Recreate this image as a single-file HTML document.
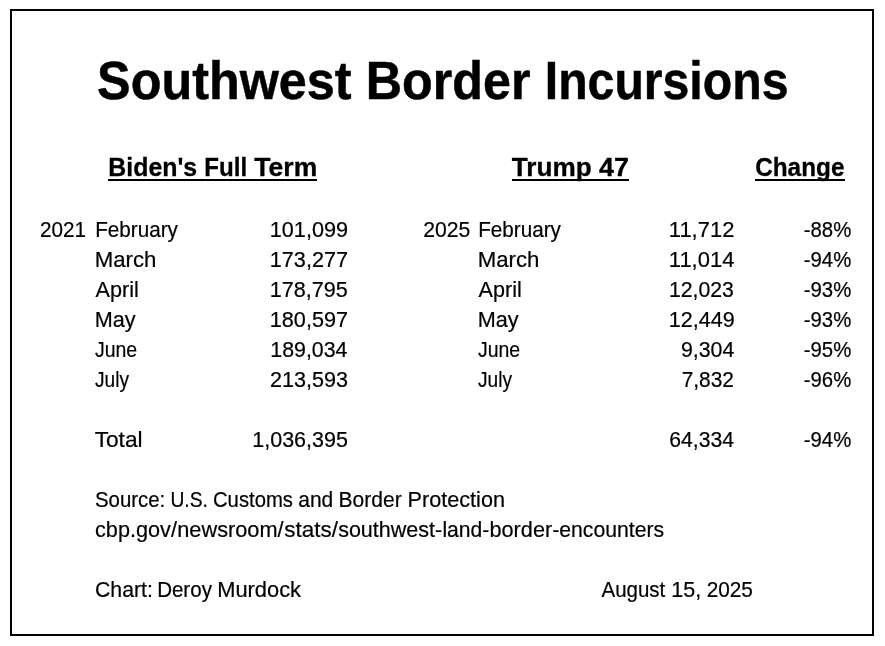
<!DOCTYPE html>
<html><head><meta charset="utf-8"><title>Southwest Border Incursions</title>
<style>
html,body{margin:0;padding:0;background:#fff;width:885px;height:646px;overflow:hidden}
svg{display:block;will-change:transform;font-family:"Liberation Sans",sans-serif;fill:#000}
text{stroke:#000;stroke-width:0.2px}
</style></head><body>
<svg width="885" height="646" viewBox="0 0 885 646">
<rect x="0" y="0" width="885" height="646" fill="#fff"/>
<rect x="11" y="10" width="862" height="625" fill="none" stroke="#000" stroke-width="2"/>
<rect x="108" y="179" width="209" height="2" fill="#000"/>
<rect x="512" y="179" width="117" height="2" fill="#000"/>
<rect x="755" y="179" width="90" height="2" fill="#000"/>
<text x="97.10" y="99" font-size="53.8" font-weight="700" style="stroke-width:0.5px" textLength="254.49" lengthAdjust="spacingAndGlyphs">Southwest</text>
<text x="365.83" y="99" font-size="53.8" font-weight="700" style="stroke-width:0.5px" textLength="164.69" lengthAdjust="spacingAndGlyphs">Border</text>
<text x="544.76" y="99" font-size="53.8" font-weight="700" style="stroke-width:0.5px" textLength="243.69" lengthAdjust="spacingAndGlyphs">Incursions</text>
<text x="108.34" y="176" font-size="26.2" font-weight="700" style="stroke-width:0.3px" textLength="88.86" lengthAdjust="spacingAndGlyphs">Biden&#39;s</text>
<text x="204.29" y="176" font-size="26.2" font-weight="700" style="stroke-width:0.3px" textLength="42.87" lengthAdjust="spacingAndGlyphs">Full</text>
<text x="254.35" y="176" font-size="26.2" font-weight="700" style="stroke-width:0.3px" textLength="62.87" lengthAdjust="spacingAndGlyphs">Term</text>
<text x="511.75" y="176" font-size="26.2" font-weight="700" style="stroke-width:0.3px" textLength="79.98" lengthAdjust="spacingAndGlyphs">Trump</text>
<text x="599.04" y="176" font-size="26.2" font-weight="700" style="stroke-width:0.3px" textLength="29.93" lengthAdjust="spacingAndGlyphs">47</text>
<text x="755.17" y="176" font-size="26.2" font-weight="700" style="stroke-width:0.3px" textLength="89.26" lengthAdjust="spacingAndGlyphs">Change</text>
<text x="40.05" y="237" font-size="21.8" textLength="46.10" lengthAdjust="spacingAndGlyphs">2021</text>
<text x="423.13" y="237" font-size="21.8" textLength="47.14" lengthAdjust="spacingAndGlyphs">2025</text>
<text x="95.22" y="237" font-size="21.5" textLength="82.73" lengthAdjust="spacingAndGlyphs">February</text>
<text x="478.22" y="237" font-size="21.5" textLength="82.73" lengthAdjust="spacingAndGlyphs">February</text>
<text x="94.69" y="267" font-size="21.5" textLength="61.74" lengthAdjust="spacingAndGlyphs">March</text>
<text x="477.69" y="267" font-size="21.5" textLength="61.74" lengthAdjust="spacingAndGlyphs">March</text>
<text x="95.60" y="297" font-size="21.5" textLength="43.22" lengthAdjust="spacingAndGlyphs">April</text>
<text x="478.60" y="297" font-size="21.5" textLength="43.22" lengthAdjust="spacingAndGlyphs">April</text>
<text x="94.74" y="327" font-size="21.5" textLength="40.89" lengthAdjust="spacingAndGlyphs">May</text>
<text x="477.74" y="327" font-size="21.5" textLength="40.89" lengthAdjust="spacingAndGlyphs">May</text>
<text x="94.97" y="357" font-size="21.5" textLength="42.22" lengthAdjust="spacingAndGlyphs">June</text>
<text x="477.97" y="357" font-size="21.5" textLength="42.22" lengthAdjust="spacingAndGlyphs">June</text>
<text x="94.98" y="387" font-size="21.5" textLength="34.01" lengthAdjust="spacingAndGlyphs">July</text>
<text x="477.98" y="387" font-size="21.5" textLength="34.01" lengthAdjust="spacingAndGlyphs">July</text>
<text x="94.67" y="447" font-size="21.5" textLength="47.93" lengthAdjust="spacingAndGlyphs">Total</text>
<text x="269.76" y="237" font-size="21.8" textLength="78.28" lengthAdjust="spacingAndGlyphs">101,099</text>
<text x="668.84" y="237" font-size="21.8" textLength="65.53" lengthAdjust="spacingAndGlyphs">11,712</text>
<text x="803.77" y="237" font-size="21.8" textLength="47.53" lengthAdjust="spacingAndGlyphs">-88%</text>
<text x="269.76" y="267" font-size="21.8" textLength="78.28" lengthAdjust="spacingAndGlyphs">173,277</text>
<text x="668.84" y="267" font-size="21.8" textLength="65.53" lengthAdjust="spacingAndGlyphs">11,014</text>
<text x="803.77" y="267" font-size="21.8" textLength="47.53" lengthAdjust="spacingAndGlyphs">-94%</text>
<text x="269.77" y="297" font-size="21.8" textLength="78.02" lengthAdjust="spacingAndGlyphs">178,795</text>
<text x="668.90" y="297" font-size="21.8" textLength="64.90" lengthAdjust="spacingAndGlyphs">12,023</text>
<text x="803.77" y="297" font-size="21.8" textLength="47.53" lengthAdjust="spacingAndGlyphs">-93%</text>
<text x="269.76" y="327" font-size="21.8" textLength="78.28" lengthAdjust="spacingAndGlyphs">180,597</text>
<text x="668.87" y="327" font-size="21.8" textLength="65.84" lengthAdjust="spacingAndGlyphs">12,449</text>
<text x="803.77" y="327" font-size="21.8" textLength="47.53" lengthAdjust="spacingAndGlyphs">-93%</text>
<text x="270.28" y="357" font-size="21.8" textLength="77.25" lengthAdjust="spacingAndGlyphs">189,034</text>
<text x="680.92" y="357" font-size="21.8" textLength="53.41" lengthAdjust="spacingAndGlyphs">9,304</text>
<text x="803.77" y="357" font-size="21.8" textLength="47.53" lengthAdjust="spacingAndGlyphs">-95%</text>
<text x="270.01" y="387" font-size="21.8" textLength="78.03" lengthAdjust="spacingAndGlyphs">213,593</text>
<text x="681.64" y="387" font-size="21.8" textLength="52.26" lengthAdjust="spacingAndGlyphs">7,832</text>
<text x="803.77" y="387" font-size="21.8" textLength="47.53" lengthAdjust="spacingAndGlyphs">-96%</text>
<text x="252.27" y="447" font-size="21.8" textLength="95.68" lengthAdjust="spacingAndGlyphs">1,036,395</text>
<text x="669.23" y="447" font-size="21.8" textLength="64.72" lengthAdjust="spacingAndGlyphs">64,334</text>
<text x="803.77" y="447" font-size="21.8" textLength="47.53" lengthAdjust="spacingAndGlyphs">-94%</text>
<text x="94.95" y="507" font-size="21.5" textLength="70.31" lengthAdjust="spacingAndGlyphs">Source:</text>
<text x="170.43" y="507" font-size="21.5" textLength="37.43" lengthAdjust="spacingAndGlyphs">U.S.</text>
<text x="212.96" y="507" font-size="21.5" textLength="80.02" lengthAdjust="spacingAndGlyphs">Customs</text>
<text x="298.22" y="507" font-size="21.5" textLength="35.02" lengthAdjust="spacingAndGlyphs">and</text>
<text x="338.59" y="507" font-size="21.5" textLength="63.10" lengthAdjust="spacingAndGlyphs">Border</text>
<text x="407.54" y="507" font-size="21.5" textLength="97.48" lengthAdjust="spacingAndGlyphs">Protection</text>
<text x="94.99" y="537" font-size="21.5" textLength="81.94" lengthAdjust="spacingAndGlyphs">cbp.gov/</text>
<text x="177.23" y="537" font-size="21.5" textLength="106.42" lengthAdjust="spacingAndGlyphs">newsroom/</text>
<text x="284.27" y="537" font-size="21.5" textLength="53.68" lengthAdjust="spacingAndGlyphs">stats/</text>
<text x="338.15" y="537" font-size="21.5" textLength="104.02" lengthAdjust="spacingAndGlyphs">southwest-</text>
<text x="442.43" y="537" font-size="21.5" textLength="46.91" lengthAdjust="spacingAndGlyphs">land-</text>
<text x="489.54" y="537" font-size="21.5" textLength="69.83" lengthAdjust="spacingAndGlyphs">border-</text>
<text x="559.31" y="537" font-size="21.5" textLength="104.86" lengthAdjust="spacingAndGlyphs">encounters</text>
<text x="95.01" y="597" font-size="21.5" textLength="57.93" lengthAdjust="spacingAndGlyphs">Chart:</text>
<text x="157.13" y="597" font-size="21.5" textLength="54.78" lengthAdjust="spacingAndGlyphs">Deroy</text>
<text x="217.22" y="597" font-size="21.5" textLength="83.83" lengthAdjust="spacingAndGlyphs">Murdock</text>
<text x="601.50" y="597" font-size="21.5" textLength="63.78" lengthAdjust="spacingAndGlyphs">August</text>
<text x="671.27" y="597" font-size="21.8" textLength="29.97" lengthAdjust="spacingAndGlyphs">15,</text>
<text x="706.65" y="597" font-size="21.8" textLength="46.31" lengthAdjust="spacingAndGlyphs">2025</text>
</svg>
</body></html>
